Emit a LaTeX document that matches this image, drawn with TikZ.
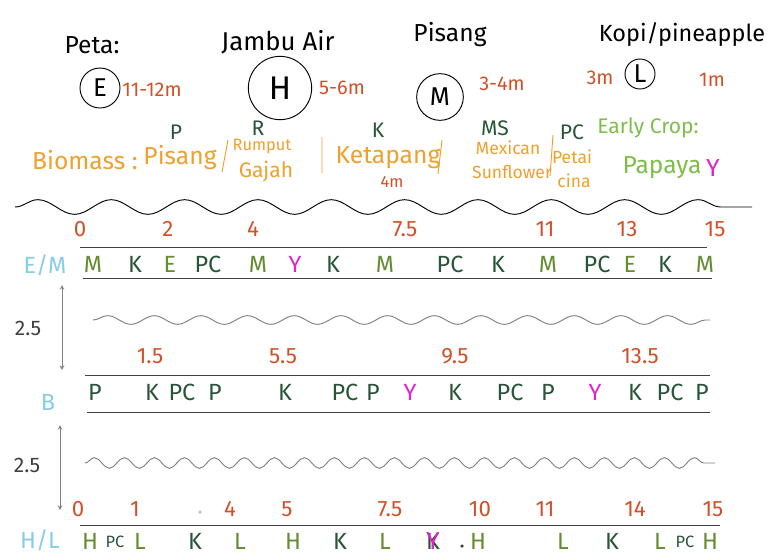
\documentclass[tikz,border=0pt]{standalone}
\usepackage{fontspec}
\setmainfont{Fira Sans}
\usetikzlibrary{decorations.pathmorphing}
\tikzset{>=stealth}
\definecolor{bioorange}{RGB}{240,160,45}
\definecolor{numred}{RGB}{210,80,40}
\definecolor{darkgreen}{RGB}{40,85,55}
\definecolor{olivegreen}{RGB}{100,140,50}
\definecolor{lightgreen}{RGB}{125,190,75}
\definecolor{papaya}{RGB}{225,35,205}
\definecolor{rowblue}{RGB}{135,205,230}

\begin{document}
\begin{tikzpicture}[x=0.3mm,y=-0.3mm,
    big/.style={font=\fontsize{21}{23}\selectfont},
    mid/.style={font=\fontsize{18}{20}\selectfont},
    row/.style={font=\fontsize{20}{22}\selectfont},
    low/.style={font=\fontsize{15}{17}\selectfont},
    small/.style={font=\fontsize{14}{16}\selectfont},
    num/.style={font=\fontsize{19}{21}\selectfont,color=numred},
    tree/.style={draw,circle,thick,inner sep=0pt,font=\fontsize{22}{24}\selectfont}]
    \useasboundingbox (0,0) rectangle (769,559);
    % trees and heights
    \node[big] (peta) at (92,45) {Peta:};
    \node[big,font=\fontsize{22}{24}\selectfont] (jambu) at (278,42) {Jambu Air};
    \node[big] (pisang) at (450,35) {Pisang};
    \node[big,font=\fontsize{20}{22}\selectfont] (kopi) at (682,35) {Kopi/pineapple};
    \node[tree,minimum size=12mm] (E) at (100,88) {E};
    \node[tree,minimum size=19mm,font=\fontsize{28}{30}\selectfont] (H) at (280,88) {H};
    \node[tree,minimum size=14mm] (M) at (440,97) {M};
    \node[tree,minimum size=9mm] (L) at (640,74) {L};
    \node[num,font=\fontsize{17}{19}\selectfont] (hE) at (152,90) {11-12m};
    \node[num,font=\fontsize{17}{19}\selectfont] (hH) at (342,88) {5-6m};
    \node[num,font=\fontsize{17}{19}\selectfont] (hM) at (502,84) {3-4m};
    \node[num,font=\fontsize{17}{19}\selectfont] (hL) at (600,78) {3m};
    \node[num,font=\fontsize{17}{19}\selectfont] (hP) at (712,80) {1m};
    % biomass
    \node[big,color=bioorange,anchor=west] (bio) at (28,160) {Biomass :};
    \node[big,color=bioorange] (bP) at (180,158) {Pisang};
    \node[small,color=bioorange] (bR1) at (262,147) {Rumput};
    \node[mid,color=bioorange] (bR2) at (266,172) {Gajah};
    \node[big,color=bioorange] (bK) at (388,158) {Ketapang};
    \node[small,color=numred] (bK2) at (392,182) {4m};
    \node[low,color=bioorange] (bMS1) at (508,148) {Mexican};
    \node[low,color=bioorange] (bMS2) at (512,172) {Sunflower};
    \node[low,color=bioorange] (bPC1) at (572,157) {Petai};
    \node[low,color=bioorange] (bPC2) at (574,181) {cina};
    \draw[bioorange,thick] (228,140) -- (222,172) (322,137) -- (322,173) (442,140) -- (438,174) (553,135) -- (550,176);
    \node[mid,color=darkgreen] (kP) at (176,132) {P};
    \node[mid,color=darkgreen] (kR) at (258,128) {R};
    \node[mid,color=darkgreen] (kK) at (378,130) {K};
    \node[mid,color=darkgreen] (kMS) at (495,128) {MS};
    \node[mid,color=darkgreen] (kPC) at (572,132) {PC};
    \node[mid,color=lightgreen] (early) at (648,128) {Early Crop:};
    \node[big,color=lightgreen] (papaya) at (662,168) {Papaya};
    \node[big,color=papaya] (kY) at (713,168) {Y};
    \draw[thick,decorate,decoration={snake,amplitude=2.2mm,segment length=22mm}] (15,207) -- (752,207);
    % row E/M
    \node[row,color=rowblue] (rEM) at (45,265) {E/M};
    \draw[thick,color=darkgray] (80,247) -- (707,247);
    \draw[thick,color=darkgray] (83,278) -- (712,278);
    \foreach \x/\t in {80/0,168/2,253/4,405/7.5,545/11,627/13,715/15}
        \node[num] (a\t) at (\x,229) {\t};
    \foreach \x/\t/\c [count=\i] in {93/M/olivegreen,135/K/darkgreen,170/E/olivegreen,208/PC/darkgreen,258/M/olivegreen,295/Y/papaya,333/K/darkgreen,385/M/olivegreen,450/PC/darkgreen,498/K/darkgreen,548/M/olivegreen,597/PC/darkgreen,630/E/olivegreen,665/K/darkgreen,705/M/olivegreen}
        \node[row,color=\c] (e\i) at (\x,264) {\t};
    \draw[<->,gray,thick] (62,285) -- (62,370);
    \node[mid,color=darkgray] (d1) at (28,328) {2.5};
    \draw[gray,thick,decorate,decoration={snake,amplitude=1.3mm,segment length=14mm}] (93,320) -- (710,320);
    % row B
    \node[row,color=rowblue] (rB) at (48,402) {B};
    \draw[thick,color=darkgray] (85,375) -- (710,375);
    \draw[thick,color=darkgray] (87,412) -- (710,412);
    \foreach \x/\t in {150/1.5,283/5.5,455/9.5,640/13.5}
        \node[num] (b\t) at (\x,356) {\t};
    \foreach \x/\t/\c [count=\i] in {95/P/darkgreen,152/K/darkgreen,182/PC/darkgreen,215/P/darkgreen,285/K/darkgreen,345/PC/darkgreen,373/P/darkgreen,410/Y/papaya,455/K/darkgreen,510/PC/darkgreen,548/P/darkgreen,595/Y/papaya,635/K/darkgreen,670/PC/darkgreen,702/P/darkgreen}
        \node[row,color=\c] (p\i) at (\x,392) {\t};
    \draw[<->,gray,thick] (60,425) -- (60,510);
    \node[mid,color=darkgray] (d2) at (27,465) {2.5};
    \draw[gray,thick,decorate,decoration={snake,amplitude=1.6mm,segment length=9mm}] (85,463) -- (715,463);
    % row H/L
    \node[row,color=rowblue] (rHL) at (40,540) {H/L};
    \draw[thick,color=darkgray] (80,525) -- (720,525);
    \foreach \x/\t in {78/0,135/1,230/4,287/5,390/7.5,480/10,545/11,635/14,713/15}
        \node[num] (c\t) at (\x,509) {\t};
    \fill[lightgray] (200,512) circle (1.5pt);
    \foreach \x/\t/\c [count=\i] in {90/H/olivegreen,140/L/olivegreen,195/K/darkgreen,240/L/olivegreen,293/H/olivegreen,340/K/darkgreen,385/L/olivegreen,433/K/darkgreen,478/H/olivegreen,563/L/olivegreen,612/K/darkgreen,660/L/olivegreen,710/H/olivegreen}
        \node[row,color=\c] (h\i) at (\x,541) {\t};
    \node[small,color=darkgreen] (hPC1) at (115,542) {PC};
    \node[small,color=darkgreen] (hPC2) at (685,542) {PC};
    \node[big,color=papaya] (hY) at (h8) {Y};
    \fill[darkgray] (462,546) circle (1.5pt);
\end{tikzpicture}
\end{document}
